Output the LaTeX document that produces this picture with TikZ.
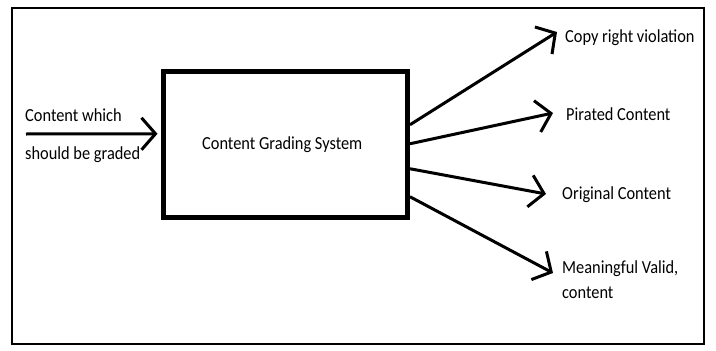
\documentclass[tikz,border=0pt]{standalone}
\usepackage{fontspec}
\setmainfont{Carlito}[FakeStretch=0.89]
\usetikzlibrary{arrows.meta}
\begin{document}
\begin{tikzpicture}[x=1pt,y=-1pt,
  lbl/.style={anchor=west, inner sep=0pt, font=\fontsize{18.4}{19}\selectfont},
  arr/.style={line width=3pt, -{Straight Barb[length=14pt,width=32pt,line width=3pt]}},
  boxstyle/.style={draw, line width=5.5pt, minimum width=244pt, minimum height=146pt, inner sep=0pt, font=\fontsize{18.4}{19}\selectfont}
  ]
\useasboundingbox (0,0) rectangle (716,351);
\fill[white] (0,0) rectangle (716,351);
\draw[line width=2pt] (12,8) rectangle (704,344);
\node[boxstyle] (box) at (285.25,144.25) {\hspace*{-6pt}Content Grading System};
% input
\node[lbl, align=left, font=\fontsize{18.4}{38}\selectfont] (inlbl) at (25,136) {Content which\\should be graded};
\coordinate (in0) at (26,134);
\draw[arr] (in0) -- ([yshift=10.5pt, xshift=-3pt]box.west);
% outputs
\node[lbl] (l1) at (565,38) {Copy right violation};
\node[lbl] (l2) at (566,114) {Pirated Content};
\node[lbl] (l3) at (562,195) {Original Content};
\node[lbl, align=left, font=\fontsize{18.4}{25}\selectfont] (l4) at (562,280) {Meaningful Valid,\\content};
\coordinate (t1) at (557,32);
\coordinate (t2) at (553,113);
\coordinate (t3) at (546,194);
\coordinate (t4) at (553,273);
\draw[arr] ([yshift=19.5pt]box.east) -- (t1);
\draw[arr] ([yshift=0.5pt]box.east) -- (t2);
\draw[arr] ([yshift=-24.5pt]box.east) -- (t3);
\draw[arr] ([yshift=-52.5pt]box.east) -- (t4);
\end{tikzpicture}
\end{document}
